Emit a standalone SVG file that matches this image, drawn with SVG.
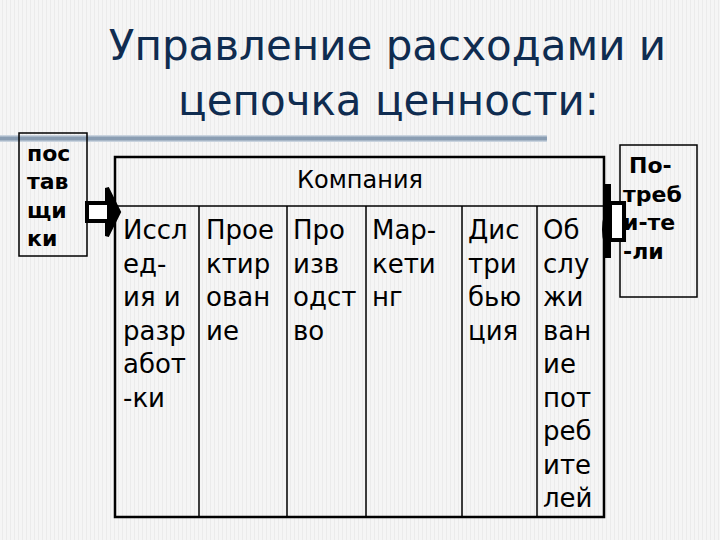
<svg xmlns="http://www.w3.org/2000/svg" width="720" height="540" viewBox="0 0 720 540">
  <defs>
    <pattern id="bg" width="4" height="8" patternUnits="userSpaceOnUse">
      <rect width="4" height="8" fill="#f5f5f5"/>
      <rect x="2" width="1" height="8" fill="#ebebeb"/>
    </pattern>
    <style>
      .title { font-family: "DejaVu Sans", Verdana, sans-serif; font-size: 42px; fill: #0f2c50; text-anchor: middle; }
      .side { font-family: "DejaVu Sans", Verdana, sans-serif; font-size: 22px; font-weight: bold; fill: #000; }
      .cell { font-family: "DejaVu Sans", Verdana, sans-serif; font-size: 26px; fill: #000; }
      .head { font-family: "DejaVu Sans", Verdana, sans-serif; font-size: 24px; fill: #000; text-anchor: middle; }
      .box { fill: none; stroke: #000; stroke-width: 1.5; }
      .outer { fill: none; stroke: #000; stroke-width: 2.5; }
      .sep { stroke: #000; stroke-width: 1.5; }
    </style>
  </defs>
  <rect width="720" height="540" fill="url(#bg)"/>

  <g id="title">
    <text class="title" x="387.5" y="60">Управление расходами и</text>
    <text class="title" x="388.5" y="115">цепочка ценности:</text>
    <rect x="0" y="135" width="547" height="7" fill="#c9d3de"/>
    <rect x="0" y="136.5" width="547" height="4" fill="#8a9db2"/>
  </g>

  <g id="suppliers">
    <rect class="box" x="19" y="133" width="68" height="123"/>
    <text class="side" x="27" y="161">пос</text>
    <text class="side" x="27" y="189">тав</text>
    <text class="side" x="27" y="217.5">щи</text>
    <text class="side" x="27" y="246">ки</text>
  </g>

  <g id="company">
    <rect class="outer" x="115" y="157" width="489" height="360"/>
    <line class="sep" x1="115" y1="206" x2="604" y2="206" stroke-width="2"/>
    <line class="sep" x1="199" y1="206" x2="199" y2="517"/>
    <line class="sep" x1="287" y1="206" x2="287" y2="517"/>
    <line class="sep" x1="366" y1="206" x2="366" y2="517"/>
    <line class="sep" x1="462" y1="206" x2="462" y2="517"/>
    <line class="sep" x1="537" y1="206" x2="537" y2="517"/>
    <text class="head" x="360" y="188">Компания</text>
    <text class="cell">
      <tspan x="123" y="239">Иссл</tspan>
      <tspan x="123" y="272.5">ед-</tspan>
      <tspan x="123" y="306">ия и</tspan>
      <tspan x="123" y="339.5">разр</tspan>
      <tspan x="123" y="373">абот</tspan>
      <tspan x="123" y="406.5">-ки</tspan>
    </text>
    <text class="cell">
      <tspan x="206" y="239">Прое</tspan>
      <tspan x="206" y="272.5">ктир</tspan>
      <tspan x="206" y="306">ован</tspan>
      <tspan x="206" y="339.5">ие</tspan>
    </text>
    <text class="cell">
      <tspan x="293" y="239">Про</tspan>
      <tspan x="293" y="272.5">изв</tspan>
      <tspan x="293" y="306">одст</tspan>
      <tspan x="293" y="339.5">во</tspan>
    </text>
    <text class="cell">
      <tspan x="372" y="239">Мар-</tspan>
      <tspan x="372" y="272.5">кети</tspan>
      <tspan x="372" y="306">нг</tspan>
    </text>
    <text class="cell">
      <tspan x="468" y="239">Дис</tspan>
      <tspan x="468" y="272.5">три</tspan>
      <tspan x="468" y="306">бью</tspan>
      <tspan x="468" y="339.5">ция</tspan>
    </text>
    <text class="cell">
      <tspan x="543" y="239">Об</tspan>
      <tspan x="543" y="272.5">слу</tspan>
      <tspan x="543" y="306">жи</tspan>
      <tspan x="543" y="339.5">ван</tspan>
      <tspan x="543" y="373">ие</tspan>
      <tspan x="543" y="406.5">пот</tspan>
      <tspan x="543" y="440">реб</tspan>
      <tspan x="543" y="473.5">ите</tspan>
      <tspan x="543" y="507">лей</tspan>
    </text>
  </g>

  <g id="consumers">
    <rect class="box" x="620" y="145" width="77" height="152"/>
    <text class="side" x="629" y="173">По-</text>
    <text class="side" x="623" y="201.5">треб</text>
    <text class="side" x="623" y="230">и-те</text>
    <text class="side" x="623" y="258.5">-ли</text>
  </g>

  <g id="connectors">
    <polygon points="87,203 107,203 107,188 119,212 107,236 107,221 87,221" fill="#fff" stroke="#000" stroke-width="4" stroke-linejoin="miter"/>
    <polygon points="107,190 118,212 107,234" fill="#000"/>
    <path d="M604,184 L611,184 L611,258 L604,258 L604,244 Q600,230 604,214 Z" fill="#000"/>
    <rect x="610" y="203" width="14" height="37" fill="#fff" stroke="#000" stroke-width="4"/>
  </g>
</svg>
